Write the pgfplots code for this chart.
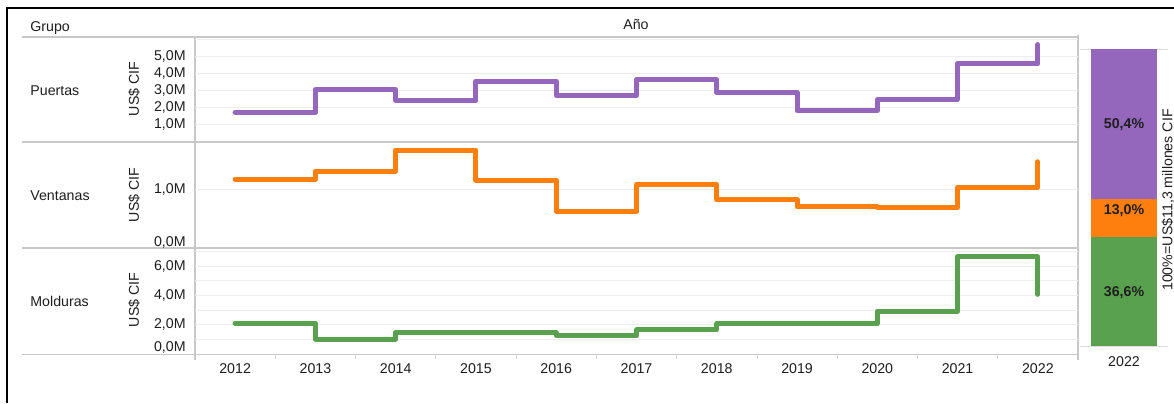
\documentclass[border=0pt]{standalone}
\usepackage{pgfplots}
\pgfplotsset{compat=1.18}
\usepackage{fontspec}
\setmainfont{Liberation Sans}

\definecolor{cPur}{HTML}{9467BD}
\definecolor{cOra}{HTML}{FF7F0E}
\definecolor{cGre}{HTML}{59A14F}
\definecolor{cGrid}{HTML}{EDEDED}
\definecolor{cBord}{HTML}{C8C8C8}
\definecolor{cTxt}{HTML}{1E1E1E}
\newcommand\fs{\fontsize{7.1}{8.5}\selectfont}

% 1 px of the reference = 0.5pt, origin top-left, y downwards
\pgfplotsset{
  panel/.style={
    scale only axis, anchor=north west, width=441.5pt,
    xmin=2011.5, xmax=2022.5,
    axis line style={draw=none},
    major tick length=0pt,
    xtick pos=bottom, ytick pos=left,
    ymajorgrids, grid style={cGrid, line width=0.5pt},
    yticklabel style={font=\fs, text=cTxt, inner sep=0pt, xshift=-4.5pt},
    xtick=\empty,
    clip=false,
  },
  step/.style={const plot, no marks, line width=2.5pt, line cap=round, line join=round},
}

\begin{document}
\begin{tikzpicture}
\begin{scope}[x=0.5pt, y=-0.5pt]
\useasboundingbox (0,0) rectangle (1174,403);
\fill[white] (0,0) rectangle (1174,403);

% frame and separators
\draw[cBord, line width=0.75pt] (22,37) -- (1078,37);
\draw[cBord, line width=0.75pt] (22,142) -- (1078,142);
\draw[cBord, line width=0.75pt] (22,248) -- (1078,248);
\draw[cBord, line width=0.75pt] (22,354.5) -- (1078,354.5);
\draw[cBord, line width=0.6pt] (195,37) -- (195,360);
\draw[cBord, line width=0.75pt] (1078,35) -- (1078,360);
\draw[cBord!60, line width=0.5pt] (1080,49) -- (1168,49);
\draw[cBord!60, line width=0.5pt] (1080,346.5) -- (1168,346.5);
\draw[black, line width=1.2pt] (6,8) -- (1174,8);
\draw[black, line width=1.2pt] (7,8) -- (7,403);

% headers
\node[font=\fs, text=cTxt, anchor=base west, inner sep=0pt] at (30,31) {Grupo};
\node[font=\fs, text=cTxt, anchor=base, inner sep=0pt] at (636,29) {Año};
\node[font=\fs, text=cTxt, anchor=base west, inner sep=0pt] at (30,95) {Puertas};
\node[font=\fs, text=cTxt, anchor=base west, inner sep=0pt] at (30,200) {Ventanas};
\node[font=\fs, text=cTxt, anchor=base west, inner sep=0pt] at (30,306.5) {Molduras};
\node[font=\fs, text=cTxt, rotate=90, inner sep=0pt] at (134,89) {US\$ CIF};
\node[font=\fs, text=cTxt, rotate=90, inner sep=0pt] at (134,195) {US\$ CIF};
\node[font=\fs, text=cTxt, rotate=90, inner sep=0pt] at (134,300) {US\$ CIF};
\node[font=\fs, text=cTxt, rotate=90, inner sep=0pt] at (1168,200) {100\%=US\$11,3 millones CIF};
\end{scope}

% Puertas
\begin{axis}[panel, at={(97.5pt,-18.5pt)}, height=52.5pt, ymin=0, ymax=6.14,
  ytick={1,2,3,4,5,6}, yticklabels={1{,}0M,2{,}0M,3{,}0M,4{,}0M,5{,}0M,{}}]
\addplot[step, cPur] coordinates {
 (2012,1.74) (2013,3.07) (2014,2.43) (2015,3.56) (2016,2.72) (2017,3.64)
 (2018,2.89) (2019,1.84) (2020,2.50) (2021,4.57) (2022,5.70)};
\end{axis}

% Ventanas
\begin{axis}[panel, at={(97.5pt,-71pt)}, height=53pt, ymin=-0.017, ymax=1.81,
  ytick={1}, yticklabels={1{,}0M},
  extra y ticks={0}, extra y tick labels={0{,}0M},
  extra y tick style={grid=none, yticklabel style={yshift=2.5pt}}]
\addplot[step, cOra] coordinates {
 (2012,1.17) (2013,1.31) (2014,1.67) (2015,1.15) (2016,0.62) (2017,1.08)
 (2018,0.82) (2019,0.69) (2020,0.68) (2021,1.03) (2022,1.47)};
\end{axis}

% Molduras
\begin{axis}[panel, at={(97.5pt,-124pt)}, height=53pt, ymin=0, ymax=7.23,
  ytick={1,2,3,4,5,6,7}, yticklabels={{},2{,}0M,{},4{,}0M,{},6{,}0M,{}},
  extra y ticks={0}, extra y tick labels={0{,}0M},
  extra y tick style={grid=none, yticklabel style={yshift=3.5pt}},
  xtick={2012,2013,2014,2015,2016,2017,2018,2019,2020,2021,2022},
  xticklabels={2012,2013,2014,2015,2016,2017,2018,2019,2020,2021,2022},
  xticklabel style={font=\fs, text=cTxt, inner sep=0pt, yshift=-4.5pt},
  minor xtick={2012.5,2013.5,2014.5,2015.5,2016.5,2017.5,2018.5,2019.5,2020.5,2021.5},
  minor tick length=2.5pt, tick align=outside,
  minor tick style={cBord!70, line width=0.4pt}]
\addplot[step, cGre] coordinates {
 (2012,2.09) (2013,1.02) (2014,1.48) (2015,1.45) (2016,1.23) (2017,1.64)
 (2018,2.05) (2019,2.05) (2020,2.91) (2021,6.64) (2022,4.07)};
\end{axis}

% 2022 share bar
\begin{axis}[scale only axis, anchor=north west, at={(540pt,-24.5pt)},
  width=44pt, height=148.5pt, ymin=0, ymax=100, xmin=-0.5, xmax=0.5,
  ybar stacked, bar width=33pt,
  axis line style={draw=none}, major tick length=0pt,
  ytick=\empty, xtick={0}, xticklabels={2022},
  xticklabel style={font=\fs, text=cTxt, inner sep=0pt, yshift=-5pt},
  clip=false]
\addplot[fill=cGre, draw=none] coordinates {(0,36.6)};
\addplot[fill=cOra, draw=none] coordinates {(0,13.0)};
\addplot[fill=cPur, draw=none] coordinates {(0,50.4)};
\end{axis}

\begin{scope}[x=0.5pt, y=-0.5pt]
\node[font=\fs\bfseries, text=cTxt] at (1124,293) {36,6\%};
\node[font=\fs\bfseries, text=cTxt] at (1124,211) {13,0\%};
\node[font=\fs\bfseries, text=cTxt] at (1124,125) {50,4\%};
\end{scope}
\end{tikzpicture}
\end{document}
